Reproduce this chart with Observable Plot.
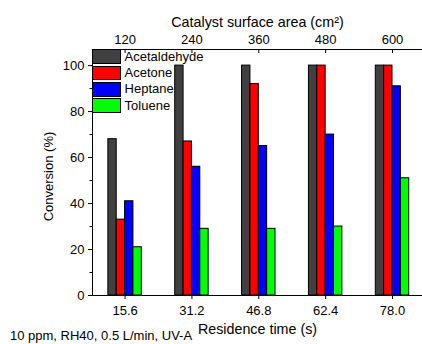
<!DOCTYPE html>
<html>
<head>
<meta charset="utf-8">
<script src="https://cdn.jsdelivr.net/npm/d3@7"></script>
<script src="https://cdn.jsdelivr.net/npm/@observablehq/plot@0.6"></script>
<style>
  body { margin: 0; background: #fff; font-family: "Liberation Sans", Arial, sans-serif; }
  #fig { position: relative; width: 422px; height: 344px; overflow: hidden; }
  #fig svg { display: block; }
  #fig svg text { font-family: "Liberation Sans", Arial, sans-serif !important; font-size: 13px !important; }
  #fig svg g[aria-label="x-axis label"] text { font-size: 14.3px !important; }
  #legend { position: absolute; left: 92px; top: 49.3px; font-size: 13px; color: #000; }
  .row { display: flex; align-items: center; height: 14.6px; margin-bottom: 1.8px; }
  .sw { box-sizing: border-box; width: 29px; height: 14.6px; border: 1px solid #000; }
  .lab { margin-left: 3.6px; line-height: 14px; white-space: nowrap; }
  #caption { position: absolute; left: 10px; top: 329px; font-size: 13px; line-height: 13px; white-space: nowrap; color: #000; }
</style>
</head>
<body>
<div id="fig"></div>
<script>
// Residence time (s) on the bottom axis, catalyst surface area (cm²) on the top axis
const times = [15.6, 31.2, 46.8, 62.4, 78.0];
const areas = [120, 240, 360, 480, 600];

// Conversion (%) per compound
const names = ["Acetaldehyde", "Acetone", "Heptane", "Toluene"];
const colors = ["#404040", "#ff0000", "#0000ff", "#00ff00"];
const acetaldehyde = [68, 100, 100, 100, 100];
const acetone = [33, 67, 92, 100, 100];
const heptane = [41, 56, 65, 70, 91];
const toluene = [21, 29, 29, 30, 51];
const series = [acetaldehyde, acetone, heptane, toluene];

const xMin = 8, xMax = 85, yMax = 107;
// four bars fill half of the spacing between residence times
const barW = (times[1] - times[0]) / 8;

const rows = series.flatMap((vals, i) =>
  vals.map((v, j) => ({
    name: names[i],
    v,
    x1: times[j] + (i - 2) * barW,
    x2: times[j] + (i - 1) * barW
  }))
);

const chart = Plot.plot({
  width: 422,
  height: 344,
  marginTop: 49,
  marginBottom: 49,
  marginLeft: 92,
  marginRight: 0,
  style: { fontFamily: "Liberation Sans, Arial, sans-serif", fontSize: "13px", color: "#000", background: "transparent" },
  x: { domain: [xMin, xMax] },
  y: { domain: [0, yMax] },
  color: { domain: names, range: colors },
  marks: [
    Plot.rectY(rows, { x1: "x1", x2: "x2", y1: 0, y2: "v", fill: "name", stroke: "#000", strokeWidth: 1 }),
    Plot.axisY(d3.range(0, 101, 20), {
      tickSize: 4, tickPadding: 4,
      label: "Conversion (%)", labelAnchor: "center", labelOffset: 49, labelArrow: "none"
    }),
    Plot.axisY(d3.range(10, 100, 20), { tickSize: 2.5, tickFormat: () => "", label: null }),
    Plot.axisX(times, {
      anchor: "bottom", tickSize: 4, tickPadding: 6, tickFormat: d => d.toFixed(1),
      label: "Residence time (s)", labelAnchor: "center", labelOffset: 38, labelArrow: "none"
    }),
    Plot.axisX(times, {
      anchor: "top", tickSize: 0, tickPadding: 6, tickFormat: d => String(areas[times.indexOf(d)]),
      label: "Catalyst surface area (cm²)", labelAnchor: "center", labelOffset: 32.5, labelArrow: "none"
    }),
    // top-axis ticks point into the plot
    Plot.ruleX(times, { y1: yMax, y2: yMax, insetBottom: -4, stroke: "#000" }),
    Plot.ruleY([0, yMax], { stroke: "#000" }),
    Plot.ruleX([xMin], { stroke: "#000" })
  ]
});

// nudge the vertical axis title slightly below the frame centre
const yLabel = chart.querySelector('g[aria-label="y-axis label"]');
if (yLabel) {
  const t = yLabel.getAttribute("transform") || "";
  yLabel.setAttribute("transform", `translate(0,4) ${t}`.trim());
}

const fig = document.getElementById("fig");
fig.appendChild(chart);

// legend in the upper-left corner of the plot
const legend = document.createElement("div");
legend.id = "legend";
names.forEach((n, i) => {
  const row = document.createElement("div");
  row.className = "row";
  const sw = document.createElement("div");
  sw.className = "sw";
  sw.style.background = colors[i];
  const lab = document.createElement("div");
  lab.className = "lab";
  lab.textContent = n;
  row.appendChild(sw);
  row.appendChild(lab);
  legend.appendChild(row);
});
fig.appendChild(legend);

const caption = document.createElement("div");
caption.id = "caption";
caption.textContent = "10 ppm, RH40, 0.5 L/min, UV-A";
fig.appendChild(caption);
</script>
</body>
</html>
